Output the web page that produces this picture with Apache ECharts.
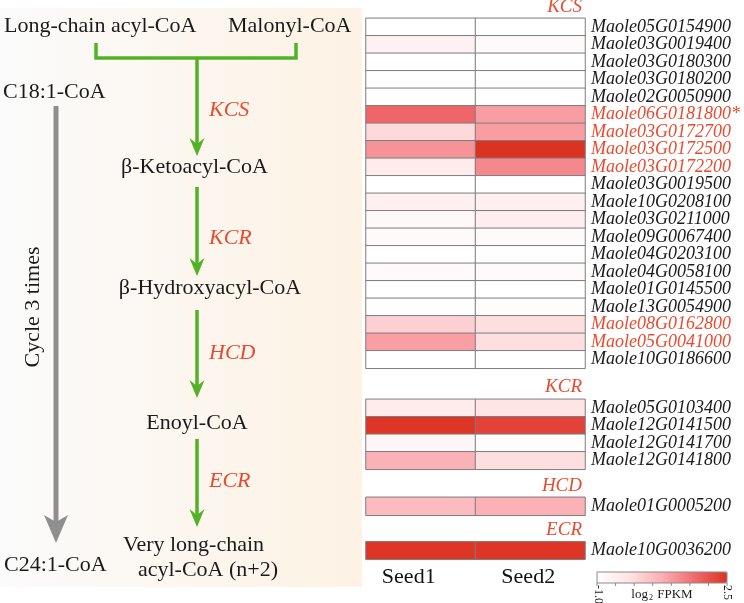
<!DOCTYPE html>
<html><head><meta charset="utf-8">
<script src="https://cdn.jsdelivr.net/npm/echarts@6/dist/echarts.min.js"></script>
<style>html,body{margin:0;padding:0;background:#fff}#c{width:744px;height:603px}</style>
</head><body><div id="c"></div><script>
// ---------------- data ----------------
const samples = ['Seed1', 'Seed2'];

const kcsGenes = ['Maole05G0154900','Maole03G0019400','Maole03G0180300','Maole03G0180200','Maole02G0050900',
  'Maole06G0181800*','Maole03G0172700','Maole03G0172500','Maole03G0172200','Maole03G0019500',
  'Maole10G0208100','Maole03G0211000','Maole09G0067400','Maole04G0203100','Maole04G0058100',
  'Maole01G0145500','Maole13G0054900','Maole08G0162800','Maole05G0041000','Maole10G0186600'];
const kcsSeed1 = [-1, -0.55, -1, -1, -1, 1.7, 0.05, 1.1, -0.4, -1, -0.5, -0.78, -0.85, -1, -0.82, -1, -1, 0.2, 0.95, -1];
const kcsSeed2 = [-1, -0.85, -1, -1, -1, 0.97, 0.97, 2.5, 1.25, -1, -0.5, -0.48, -0.85, -0.95, -0.85, -1, -0.9, -0.05, -0.05, -1];

const kcrGenes = ['Maole05G0103400','Maole12G0141500','Maole12G0141700','Maole12G0141800'];
const kcrSeed1 = [-0.38, 2.45, -0.72, 0.7];
const kcrSeed2 = [-0.2, 2.25, -0.9, -0.05];

const hcdGenes = ['Maole01G0005200'];
const hcdSeed1 = [0.53];
const hcdSeed2 = [0.72];

const ecrGenes = ['Maole10G0036200'];
const ecrSeed1 = [2.45];
const ecrSeed2 = [2.45];

const groupNames = ['KCS', 'KCR', 'HCD', 'ECR'];
const highlightedGenes = ['Maole06G0181800*','Maole03G0172700','Maole03G0172500','Maole03G0172200','Maole08G0162800','Maole05G0041000'];
const scaleMin = -1.0, scaleMax = 2.5;
const scaleLabels = ['-1.0', '2.5'];

// ---------------- layout / style ----------------
const RED = '#ea4a2f', GREEN = '#52b226', GRAY = '#8f8f8f';
const SERIF = '"Liberation Serif","Times New Roman",serif';
const groups = [
  {genes: kcsGenes, s1: kcsSeed1, s2: kcsSeed2, top: 18.3, h: 350},
  {genes: kcrGenes, s1: kcrSeed1, s2: kcrSeed2, top: 399.3, h: 70},
  {genes: hcdGenes, s1: hcdSeed1, s2: hcdSeed2, top: 497.3, h: 18},
  {genes: ecrGenes, s1: ecrSeed1, s2: ecrSeed2, top: 541.7, h: 17.6}
];
const titleY = [7, 387, 486, 530];

const grid = [], xAxis = [], yAxis = [], series = [];
groups.forEach((g, k) => {
  grid.push({left: 366, top: g.top, width: 219, height: g.h});
  const last = k === groups.length - 1;
  xAxis.push({
    type: 'category', gridIndex: k, data: samples,
    axisLine: {show: false}, axisTick: {show: false}, splitLine: {show: false},
    axisLabel: last ? {
      show: true, margin: 7, interval: 0, fontFamily: SERIF, fontSize: 22, color: '#111',
      formatter: v => v === 'Seed1' ? '{a|' + v + '}' : '{b|' + v + '}',
      rich: {a: {fontFamily: SERIF, fontSize: 22, color: '#111', padding: [0, 24, 0, 0]},
             b: {fontFamily: SERIF, fontSize: 22, color: '#111', padding: [0, 4, 0, 0]}}
    } : {show: false}
  });
  yAxis.push({
    type: 'category', gridIndex: k, data: g.genes, inverse: true, position: 'right',
    axisLine: {show: false}, axisTick: {show: false}, splitLine: {show: false},
    axisLabel: {
      margin: 6, interval: 0, fontFamily: SERIF, fontStyle: 'italic', fontSize: 18,
      color: v => highlightedGenes.indexOf(v) >= 0 ? RED : '#1a1a1a'
    }
  });
  const data = [];
  g.genes.forEach((name, i) => { data.push([0, i, g.s1[i]]); data.push([1, i, g.s2[i]]); });
  series.push({
    type: 'heatmap', xAxisIndex: k, yAxisIndex: k, data: data,
    itemStyle: {borderColor: '#7d7d7d', borderWidth: 1},
    emphasis: {disabled: true}, silent: true
  });
});

// ---------------- left pathway diagram & decorations ----------------
function txt(text, x, y, opt) {
  opt = opt || {};
  return {type: 'text', x: x, y: y, rotation: opt.rot || 0, z: 10, silent: true,
    style: {text: text, x: 0, y: 0, fill: opt.fill || '#1a1a1a',
      font: (opt.italic ? 'italic ' : '') + (opt.size || 22) + 'px ' + SERIF,
      textAlign: opt.align || 'left', textVerticalAlign: 'middle'}};
}
function greenArrow(y0, tip) {
  return [
    {type: 'line', z: 5, silent: true, shape: {x1: 197, y1: y0, x2: 197, y2: tip - 10},
      style: {stroke: GREEN, lineWidth: 3.5}},
    {type: 'polygon', z: 6, silent: true,
      shape: {points: [[189.5, tip - 18], [197, tip], [204.5, tip - 18], [197, tip - 12]]},
      style: {fill: GREEN}}
  ];
}
const graphic = [
  {type: 'rect', z: 0, silent: true, shape: {x: 0, y: 8, width: 362, height: 579},
    style: {fill: new echarts.graphic.LinearGradient(0, 0, 1, 0,
      [{offset: 0, color: '#fbfbfb'}, {offset: 1, color: '#fdf2e4'}])}},
  txt('Long-chain acyl-CoA', 4, 26),
  txt('Malonyl-CoA', 228, 26),
  txt('C18:1-CoA', 3, 92),
  txt('\u03b2-Ketoacyl-CoA', 194.5, 167, {align: 'center'}),
  txt('\u03b2-Hydroxyacyl-CoA', 210, 288, {align: 'center'}),
  txt('Enoyl-CoA', 197, 423, {align: 'center'}),
  txt('Very long-chain', 193.5, 545, {align: 'center'}),
  txt('acyl-CoA (n+2)', 208, 570, {align: 'center'}),
  txt('C24:1-CoA', 4, 565),
  txt('Cycle 3 times', 33, 307, {align: 'center', rot: Math.PI / 2}),
  txt('KCS', 209, 110, {italic: true, fill: RED}),
  txt('KCR', 209, 238, {italic: true, fill: RED}),
  txt('HCD', 209, 353, {italic: true, fill: RED}),
  txt('ECR', 209, 481, {italic: true, fill: RED}),
  {type: 'polyline', z: 5, silent: true, shape: {points: [[96, 43], [96, 58], [296, 58], [296, 43]]},
    style: {stroke: GREEN, lineWidth: 3.5, fill: null}},
  ...greenArrow(58, 156),
  ...greenArrow(187, 276),
  ...greenArrow(310, 398),
  ...greenArrow(439, 527),
  {type: 'line', z: 5, silent: true, shape: {x1: 56, y1: 106, x2: 56, y2: 525},
    style: {stroke: GRAY, lineWidth: 5}},
  {type: 'polygon', z: 6, silent: true, shape: {points: [[44, 515], [56, 543], [68, 515], [56, 522]]},
    style: {fill: GRAY}}
];
groupNames.forEach((n, k) => graphic.push(txt(n, 582, titleY[k], {italic: true, fill: RED, size: 19, align: 'right'})));
// colour bar frame, ticks and labels
const cbX = 597, cbY = 572, cbW = 130, cbH = 11;
graphic.push({type: 'rect', z: 20, silent: true, shape: {x: cbX, y: cbY, width: cbW, height: cbH},
  style: {fill: null, stroke: '#8a8a8a', lineWidth: 1}});
for (let v = scaleMin; v <= scaleMax + 1e-9; v += 0.5) {
  const x = cbX + (v - scaleMin) / (scaleMax - scaleMin) * cbW;
  graphic.push({type: 'line', z: 20, silent: true, shape: {x1: x, y1: cbY + cbH, x2: x, y2: cbY + cbH + 3},
    style: {stroke: '#8a8a8a', lineWidth: 1}});
}
graphic.push(txt(scaleLabels[0], cbX + 1, cbY + 13, {size: 12, rot: -Math.PI / 2}));
graphic.push(txt(scaleLabels[1], cbX + cbW, cbY + 13, {size: 12, rot: -Math.PI / 2}));
graphic.push({type: 'text', x: 662, y: 595, z: 20, silent: true,
  style: {text: '{a|log}{b|2}{a| FPKM}', textAlign: 'center', textVerticalAlign: 'middle',
    rich: {a: {fontFamily: SERIF, fontSize: 13, fill: '#1a1a1a'},
           b: {fontFamily: SERIF, fontSize: 8, fill: '#1a1a1a', verticalAlign: 'bottom', padding: [4, 1, 0, 1]}}}});

const chart = echarts.init(document.getElementById('c'), null, {renderer: 'canvas'});
chart.setOption({
  backgroundColor: '#ffffff',
  animation: false,
  grid: grid, xAxis: xAxis, yAxis: yAxis, series: series,
  visualMap: {
    type: 'continuous', min: scaleMin, max: scaleMax, seriesIndex: [0, 1, 2, 3],
    show: true, orient: 'horizontal', left: cbX, top: cbY, itemWidth: cbH, itemHeight: cbW,
    calculable: false, hoverLink: false, padding: 0, text: null, showLabel: false,
    inRange: {color: ['#ffffff', '#fde3e4', '#fbafb3', '#f16a6f', '#dc3222']}
  },
  graphic: graphic
});
</script></body></html>
